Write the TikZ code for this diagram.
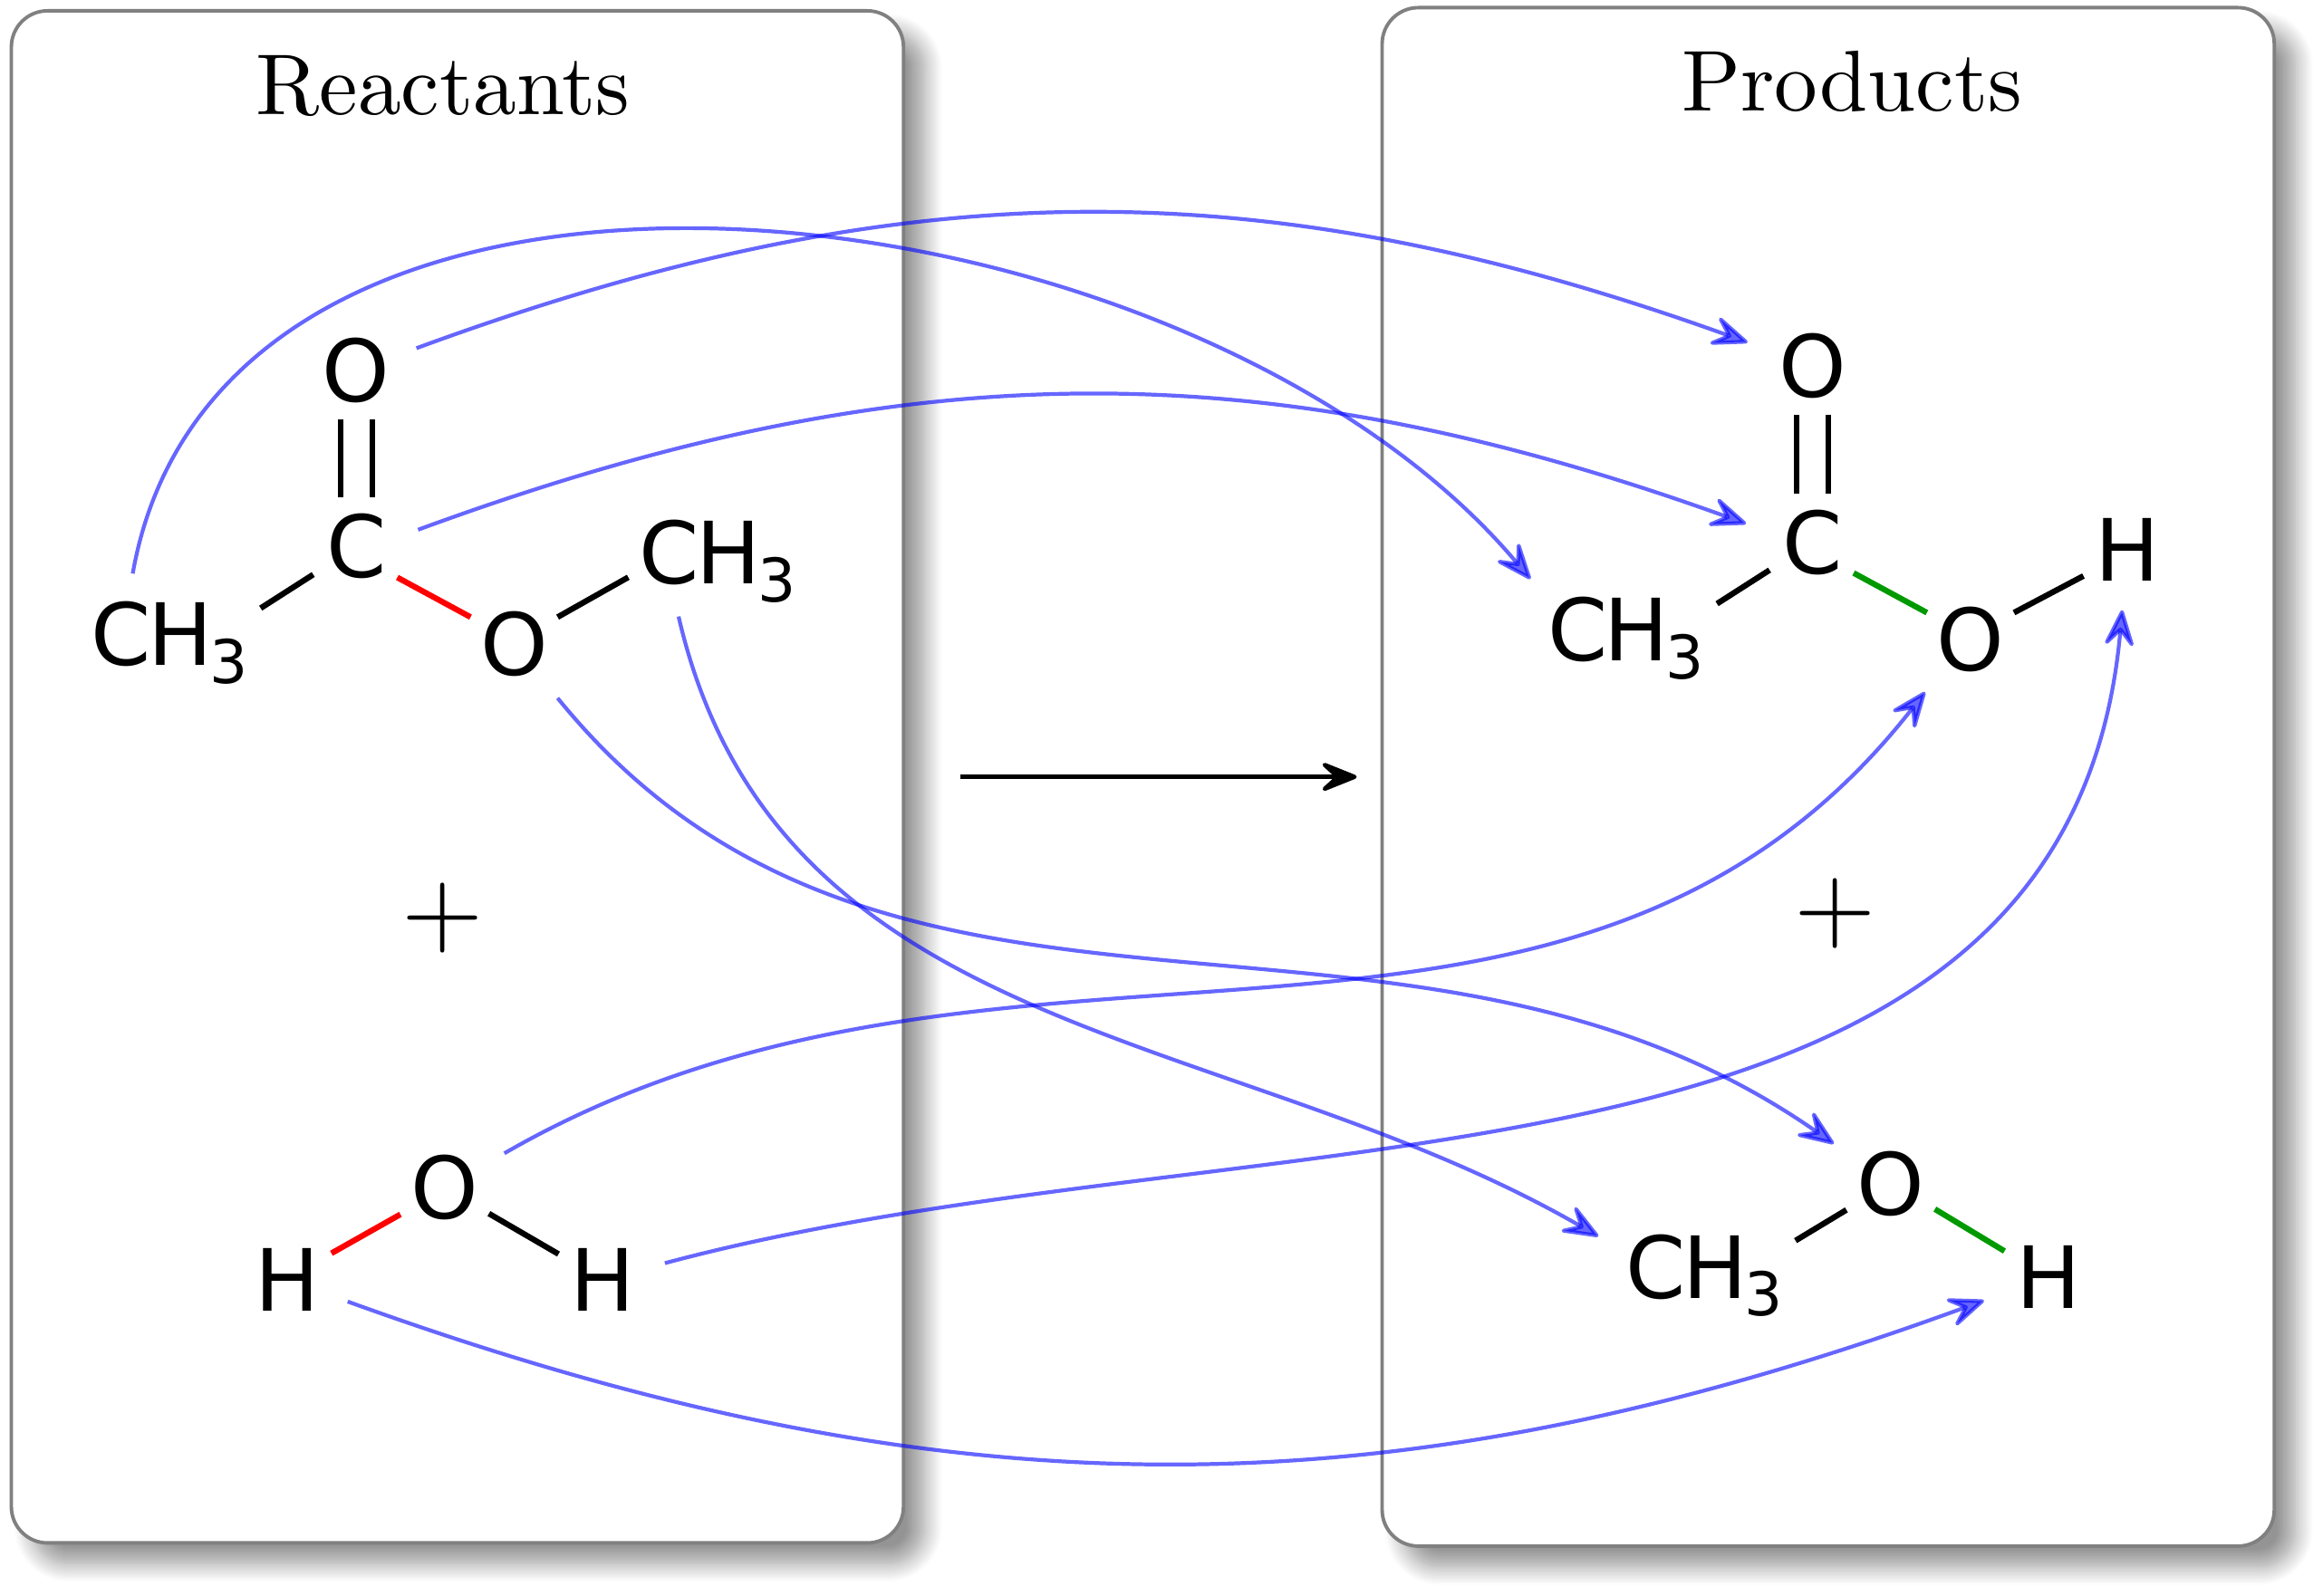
\documentclass[tikz,border=0pt]{standalone}
\usepackage{fontspec}
\usepackage{tikz}
\usetikzlibrary{arrows.meta,shadows.blur}
\newfontfamily\atomfont{DejaVu Sans}
\newfontface\titlefont{lmroman10-regular.otf}
\newcommand{\methyl}{C\kern-0.035em H\kern-0.035em\textsubscript{3}}

\tikzset{
	atom/.style={shape=circle,inner sep=0pt,minimum size=1.12cm,font=\atomfont\fontsize{27}{32}\selectfont},
	group/.style={inner sep=0.115cm,font=\atomfont\fontsize{27}{32}\selectfont},
	title/.style={font=\titlefont\fontsize{27.15}{32}\selectfont},
	sign/.style={font=\titlefont\fontsize{33}{40}\selectfont},
	panel/.style={draw=black!50,line width=1.1pt,fill=white,rounded corners=0.4cm,
		blur shadow={shadow xshift=0.23cm,shadow yshift=-0.23cm,shadow blur radius=0.2cm,shadow blur steps=15,shadow opacity=42}},
	bond/.style={line width=1.8pt},
	tip/.style={>={Stealth[length=5mm,width=4mm,inset=2.2mm,round]}},
	flow/.style={->,tip,blue,opacity=0.6,line width=1.2pt,shorten <=5.6pt,shorten >=5.6pt}
}

\begin{document}
\begin{tikzpicture}[x=0.016352cm,y=-0.016352cm]
	\useasboundingbox (0,0) rectangle (1568,1077);

	\node[panel,minimum width=9.85cm,minimum height=16.92cm] (reactants) at (308.75,524.5) {};
	\node[panel,minimum width=9.85cm,minimum height=16.99cm] (products) at (1234,524.5) {};
	\node[title] (rtitle) at (299,58) {Reactants};
	\node[title] (ptitle) at (1250,55) {Products};

	\node[atom] (o1) at (240.5,250) {O};
	\node[atom] (c1) at (240.5,369) {C};
	\node[group] (ch1) at (115,434) {\methyl};
	\node[atom] (o2) at (347,435) {O};
	\node[group] (ch2) at (485,379) {\methyl};
	\node[sign] (plus1) at (299,620) {+};
	\node[atom] (o3) at (300,802) {O};
	\node[atom] (h1) at (194,864) {H};
	\node[atom] (h2) at (407,864) {H};

	\node[atom] (o4) at (1223.5,247) {O};
	\node[atom] (c2) at (1223.5,366) {C};
	\node[group] (ch3) at (1098,431) {\methyl};
	\node[atom] (o5) at (1330,432) {O};
	\node[atom] (h3) at (1436,371) {H};
	\node[sign] (plus2) at (1239,617) {+};
	\node[atom] (o6) at (1276,799) {O};
	\node[group] (ch4) at (1151,861) {\methyl};
	\node[atom] (h4) at (1383,862) {H};

	\path[bond] (o1.252) edge (c1.108);
	\path[bond] (o1.288) edge (c1.72);
	\path[bond] (ch1.21) edge (c1.213);
	\path[bond,red] (c1.-37) edge (o2.148);
	\path[bond] (o2.32) edge (ch2.190);
	\path[bond,red] (h1.31) edge (o3.211);
	\path[bond] (o3.-30) edge (h2.150);

	\path[bond] (o4.252) edge (c2.108);
	\path[bond] (o4.288) edge (c2.72);
	\path[bond] (ch3.21) edge (c2.213);
	\path[bond,green!60!black] (c2.-37) edge (o5.148);
	\path[bond] (o5.32) edge (h3.211);
	\path[bond] (ch4.21) edge (o6.211);
	\path[bond,green!60!black] (o6.-30) edge (h4.150);

	\draw[->,tip,line width=1.3pt,shorten <=37*0.016352cm,shorten >=16*0.016352cm] (reactants) -- (products);

	\draw[flow,shorten <=5.5pt,shorten >=3pt] (ch1.128) to[out=80,in=130,looseness=0.98] (ch3.150);
	\draw[flow,shorten <=4pt] (o1) to[bend left=20] (o4);
	\draw[flow,shorten <=4pt] (c1.14) to[bend left=20] (c2.166);
	\draw[flow] (o2) to[out=-51,in=145] (o6);
	\draw[flow,shorten <=1pt,shorten >=6pt] (ch2.232) to[out=-77,in=150] (ch4.162);
	\draw[flow] (o3) to[out=30,in=-128] (o5.228);
	\draw[flow,shorten <=4pt,shorten >=3pt] (h2) to[out=15,in=-95] (h3);
	\draw[flow,shorten <=4pt] (h1) to[bend right=20] (h4);
\end{tikzpicture}
\end{document}
